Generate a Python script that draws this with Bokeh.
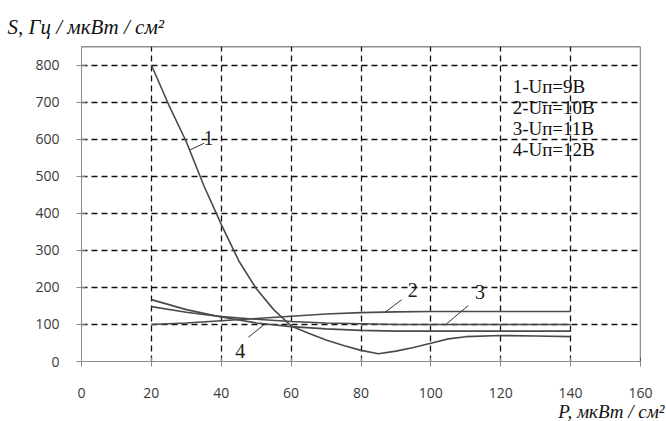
from bokeh.plotting import figure
from bokeh.models import Range1d, FixedTicker, Span, Label, Title
from bokeh.embed import file_html
from bokeh.resources import INLINE

# ---- data ----
p1 = [20, 25, 30, 35, 40, 45, 50, 55, 60, 65, 70, 75, 80, 85, 90, 95, 100, 105, 110, 120, 130, 140]
s1 = [800, 692, 593, 475, 370, 272, 197, 140, 96, 76, 58, 43, 30, 21, 28, 38, 49, 61, 67, 70, 69, 67]

p2 = [20, 30, 40, 50, 60, 70, 80, 90, 100, 110, 120, 130, 140]
s2 = [100, 104, 110, 116, 122, 128, 132, 134, 135, 135, 135, 135, 135]

p3 = [20, 30, 40, 50, 60, 70, 80, 90, 100, 110, 120, 130, 140]
s3 = [148, 133, 121, 114, 108, 104, 102, 100, 100, 100, 100, 100, 100]

p4 = [20, 30, 40, 50, 60, 70, 80, 90, 100, 110, 120, 130, 140]
s4 = [167, 140, 120, 104, 94, 88, 84, 82, 82, 82, 82, 82, 82]

x_ticks = [0, 20, 40, 60, 80, 100, 120, 140, 160]
y_ticks = [0, 100, 200, 300, 400, 500, 600, 700, 800]
grid_x = [20, 40, 60, 80, 100, 120, 140]
grid_y = [100, 200, 300, 400, 500, 600, 700, 800]

legend_lines = ["1-Uп=9В", "2-Uп=10В", "3-Uп=11В", "4-Uп=12В"]
curve_names = ["1", "2", "3", "4"]
# annotation anchor positions (data units)
name_x = [34.9, 93.4, 112.6, 44.0]
name_y = [604, 194, 188, 29]
lead_x0 = [31.1, 86.9, 104.5, 47.8]
lead_y0 = [571, 133, 101.7, 65.6]
lead_x1 = [35.1, 91.6, 110.7, 52.3]
lead_y1 = [589, 166.5, 151, 99.8]
legend_x = 123.4
legend_y = [742, 685, 628, 572]

y_title = "S, Гц / мкВт / см²"
x_title = "P, мкВт / см²"

# ---- figure ----
p = figure(width=666, height=421, output_backend="svg", toolbar_location=None,
           x_range=Range1d(0, 160), y_range=Range1d(0, 850),
           min_border_left=81, min_border_right=26, min_border_top=46, min_border_bottom=60)
p.background_fill_color = "white"
p.border_fill_color = "white"
p.outline_line_color = None

for ax, ticks in ((p.xaxis, x_ticks), (p.yaxis, y_ticks)):
    ax.ticker = FixedTicker(ticks=ticks)
    ax.minor_tick_line_color = None
    ax.axis_line_color = "#8a8a8a"
    ax.major_tick_line_color = "#8a8a8a"
    ax.major_tick_out = 5
    ax.major_tick_in = 4
    ax.major_label_text_font = "Open Sans"
    ax.major_label_text_font_size = "14px"
    ax.major_label_text_color = "#3a3a3a"
p.xaxis.major_label_standoff = 21
p.yaxis.major_label_standoff = 17

p.xgrid.ticker = FixedTicker(ticks=grid_x)
p.ygrid.ticker = FixedTicker(ticks=grid_y)
for g in (p.xgrid, p.ygrid):
    g.grid_line_color = "#111111"
    g.grid_line_width = 1.3
    g.grid_line_dash = "6 4"

p.add_layout(Span(location=160, dimension="height", line_color="#222222", line_width=1.3))
p.add_layout(Span(location=850, dimension="width", line_color="#222222", line_width=1.3))

curve_color = "#4a4a4a"
for xs, ys in ((p1, s1), (p2, s2), (p3, s3), (p4, s4)):
    p.line(xs, ys, line_color=curve_color, line_width=1.6)

p.segment(lead_x0, lead_y0, lead_x1, lead_y1, line_color="#333333", line_width=1)

for i, t in enumerate(curve_names):
    p.add_layout(Label(x=name_x[i], y=name_y[i], text=t, text_font="Liberation Serif",
                       text_font_size="20px", text_color="#222222", text_baseline="alphabetic"))

for i, t in enumerate(legend_lines):
    p.add_layout(Label(x=legend_x, y=legend_y[i], text=t, text_font="Liberation Serif",
                       text_font_size="19px", text_color="#111111", text_baseline="alphabetic"))

p.add_layout(Title(text=y_title, align="left", offset=-74, standoff=12, vertical_align="top",
                   text_font="Liberation Serif", text_font_style="italic",
                   text_font_size="21px", text_color="#111111"), "above")
p.add_layout(Title(text=x_title, align="right", offset=-24, standoff=-4,
                   text_font="Liberation Serif", text_font_style="italic",
                   text_font_size="19px", text_color="#111111"), "below")

open("out.html", "w").write(file_html(p, INLINE))
